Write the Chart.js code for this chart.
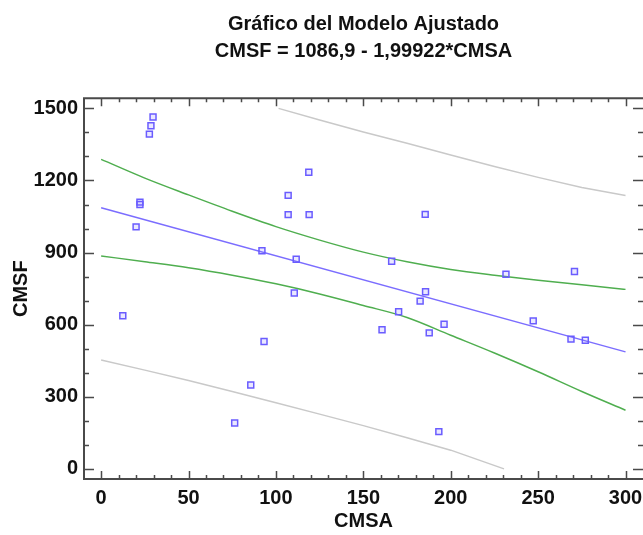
<!DOCTYPE html>
<html>
<head>
<meta charset="utf-8">
<script src="https://cdn.jsdelivr.net/npm/chart.js@4.4.1/dist/chart.umd.min.js"></script>
<style>
  html, body { margin: 0; padding: 0; background: #fff; overflow: hidden; }
  canvas { display: block; }
</style>
</head>
<body>
<canvas id="myCanvas" width="643" height="535"></canvas>
<script>
// observed points (CMSA, CMSF)
const cmsa = [29.7, 28.5, 27.6, 22.2, 22.2, 20, 92, 111.6, 107, 107, 118.8, 119, 185.4, 166.2, 231.6, 270.8,
  12.4, 110.5, 93.2, 85.6, 76.4, 185.6, 182.5, 170.2, 160.7, 187.7, 196.2, 247.2, 268.8, 277, 193.2];
const cmsf = [1464, 1428, 1393, 1110, 1100, 1007, 908, 872, 1138, 1058, 1234, 1058, 1059, 864, 810, 821,
  637, 732, 530, 349, 191, 737, 698, 654, 579, 566, 602, 616, 540, 535, 155];

// fitted line CMSF = 1086,9 - 1,99922*CMSA
const fitX = [0, 300];
const fitY = [1087, 487];

// confidence limits for the mean (green)
const confX = [0, 25, 50, 75, 100, 125, 150, 175, 200, 225, 250, 275, 300];
const confUpper = [1288, 1210, 1140, 1072, 1008, 952, 902, 862, 830, 806, 785, 766, 747];
const confLower = [886, 862, 837, 806, 770, 728, 680, 630, 556, 482, 404, 322, 244];

// prediction limits (grey)
const predUpX = [101.5, 125, 150, 175, 200, 225, 250, 275, 300];
const predUpY = [1500, 1452, 1402, 1355, 1306, 1258, 1213, 1171, 1138];
const predLoX = [0, 25, 50, 75, 100, 125, 150, 175, 200, 230.5];
const predLoY = [453, 411, 368, 322, 275, 228, 180, 130, 78, 0];

const xTicks = [0, 50, 100, 150, 200, 250, 300];
const yTicks = [0, 300, 600, 900, 1200, 1500];

const FONT = "'Liberation Sans', Arial, sans-serif";
const pts = (xs, ys) => xs.map((v, i) => ({ x: v, y: ys[i] }));

function lineSet(xs, ys, color, smooth) {
  return {
    data: pts(xs, ys),
    showLine: true,
    borderColor: color,
    borderWidth: 1.5,
    pointRadius: 0,
    fill: false,
    cubicInterpolationMode: smooth ? 'monotone' : 'default',
    tension: 0
  };
}

// frame with inward ticks on all four sides
const frameTicks = {
  id: 'frameTicks',
  afterDatasetsDraw(chart) {
    const { ctx, chartArea: a, scales: { x, y } } = chart;
    ctx.save();
    ctx.strokeStyle = '#4a4a4a';
    ctx.lineWidth = 2;
    ctx.beginPath();
    ctx.moveTo(a.right + 2, a.top);
    ctx.lineTo(a.left, a.top);
    ctx.lineTo(a.left, a.bottom);
    ctx.lineTo(a.right + 2, a.bottom);
    ctx.stroke();
    ctx.lineWidth = 1.5;
    ctx.beginPath();
    for (let v = 0; v <= 300; v += 10) {
      const px = Math.round(x.getPixelForValue(v)) + 0.5;
      const len = v % 50 === 0 ? 8 : 4;
      ctx.moveTo(px, a.bottom); ctx.lineTo(px, a.bottom - len);
      ctx.moveTo(px, a.top); ctx.lineTo(px, a.top + len);
    }
    for (let v = 0; v <= 1500; v += 100) {
      const py = Math.round(y.getPixelForValue(v)) + 0.5;
      const len = v % 300 === 0 ? 10 : 5;
      ctx.moveTo(a.left, py); ctx.lineTo(a.left + len, py);
      ctx.moveTo(a.right, py); ctx.lineTo(a.right - len, py);
    }
    ctx.stroke();
    ctx.restore();
  }
};

const axisFont = { family: FONT, size: 20, weight: 'bold' };

new Chart(document.getElementById('myCanvas'), {
  type: 'scatter',
  data: {
    datasets: [
      {
        data: pts(cmsa, cmsf),
        pointStyle: 'rect',
        pointRadius: 4.2,
        pointBorderWidth: 1.5,
        pointBorderColor: '#6a5cff',
        pointBackgroundColor: 'rgba(140,130,255,0.18)',
        showLine: false
      },
      lineSet(fitX, fitY, '#7b6dff', false),
      lineSet(confX, confUpper, '#4fae4f', true),
      lineSet(confX, confLower, '#4fae4f', true),
      lineSet(predUpX, predUpY, '#c9c9c9', false),
      lineSet(predLoX, predLoY, '#c9c9c9', false)
    ]
  },
  options: {
    responsive: false,
    animation: false,
    layout: { padding: 0, autoPadding: false },
    plugins: {
      legend: { display: false },
      tooltip: { enabled: false },
      title: {
        display: true,
        fullSize: false,
        text: ['Gráfico del Modelo Ajustado', 'CMSF = 1086,9 - 1,99922*CMSA'],
        color: '#111',
        font: { family: FONT, size: 20, weight: 'bold', lineHeight: 1.35 },
        padding: { top: 10.5, bottom: 33.8 }
      }
    },
    scales: {
      x: {
        type: 'linear',
        min: -9.8,
        max: 310,
        afterFit(s) { s.height = 56; s.paddingLeft = 0; s.paddingRight = 0; },
        grid: { display: false, drawTicks: false },
        border: { display: false },
        afterBuildTicks(s) { s.ticks = xTicks.map(v => ({ value: v })); },
        ticks: {
          padding: 7,
          color: '#111',
          font: axisFont,
          maxRotation: 0,
          callback: v => String(v)
        },
        title: {
          display: true,
          text: 'CMSA',
          color: '#111',
          font: axisFont,
          padding: { top: 2, bottom: 2 }
        }
      },
      y: {
        type: 'linear',
        min: -42,
        max: 1542,
        afterFit(s) { s.width = 84; s.paddingTop = 0; s.paddingBottom = 0; },
        grid: { display: false, drawTicks: false },
        border: { display: false },
        afterBuildTicks(s) { s.ticks = yTicks.map(v => ({ value: v })); },
        ticks: {
          padding: 6,
          color: '#111',
          font: axisFont,
          callback: v => String(v)
        },
        title: {
          display: true,
          text: 'CMSF',
          color: '#111',
          font: axisFont,
          padding: { top: 9, bottom: 9 }
        }
      }
    }
  },
  plugins: [frameTicks]
});
</script>
</body>
</html>
